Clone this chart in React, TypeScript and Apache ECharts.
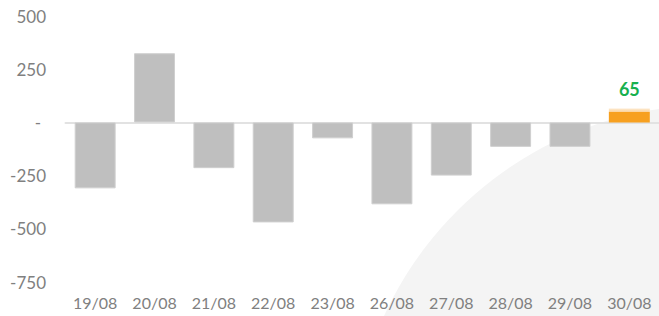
import React, { useEffect, useRef } from "react";
import * as echarts from "echarts";

const categories = ["19/08", "20/08", "21/08", "22/08", "23/08", "26/08", "27/08", "28/08", "29/08", "30/08"];
const values = [-310, 325, -215, -470, -75, -385, -250, -115, -115, 65];
const yTicks = { min: -750, max: 500, interval: 250 };

const FONT = "Lato";

export default function App() {
  const ref = useRef<HTMLDivElement>(null);
  useEffect(() => {
    if (!ref.current) return;
    const chart = echarts.init(ref.current, null, { renderer: "svg" });
    const last = values.length - 1;
    chart.setOption({
      animation: false,
      backgroundColor: "#ffffff",
      graphic: [
        {
          type: "circle",
          z: -10,
          silent: true,
          shape: { cx: 713, cy: 467, r: 362 },
          style: { fill: "#f4f4f4" },
        },
      ],
      grid: { left: 65.5, right: -2.5, top: 16, bottom: 34, containLabel: false },
      xAxis: {
        type: "category",
        data: categories,
        axisLine: { show: true, onZero: true, lineStyle: { color: "#e2e2e2", width: 2 } },
        axisTick: { show: false },
        axisLabel: {
          color: "#808080",
          fontFamily: FONT,
          fontSize: 16,
          margin: 20,
          verticalAlign: "middle",
          interval: 0,
        },
        splitLine: { show: false },
      },
      yAxis: {
        type: "value",
        min: yTicks.min,
        max: yTicks.max,
        interval: yTicks.interval,
        axisLine: { show: false },
        axisTick: { show: false },
        splitLine: { show: false },
        axisLabel: {
          color: "#808080",
          fontFamily: FONT,
          fontSize: 17,
          margin: 19.5,
          formatter: (v: number) => (v === 0 ? "{z|-}" : String(v)),
          rich: { z: { color: "#808080", fontFamily: FONT, fontSize: 17, padding: [0, 5, 0, 0] } },
        },
      },
      series: [
        {
          type: "bar",
          barWidth: "69%",
          z: 1,
          data: values.map((v, i) =>
            i === last
              ? {
                  value: v,
                  itemStyle: {
                    color: {
                      type: "linear",
                      x: 0,
                      y: 0,
                      x2: 0,
                      y2: 1,
                      colorStops: [
                        { offset: 0, color: "#fde9cf" },
                        { offset: 0.24, color: "#fbd39c" },
                        { offset: 0.26, color: "#f7a01f" },
                        { offset: 1, color: "#f7a01f" },
                      ],
                    },
                    borderWidth: 0,
                  },
                  label: {
                    show: true,
                    position: "top",
                    distance: 11,
                    color: "#17b04f",
                    fontFamily: FONT,
                    fontWeight: "bold",
                    fontSize: 18,
                  },
                }
              : v
          ),
          itemStyle: { color: "#bfbfbf", borderColor: "#cfcfcf", borderWidth: 1 },
        },
      ],
    });
    return () => chart.dispose();
  }, []);
  return (
    <div
      ref={ref}
      style={{ position: "absolute", left: 0, top: 0, width: 659, height: 316 }}
    />
  );
}
